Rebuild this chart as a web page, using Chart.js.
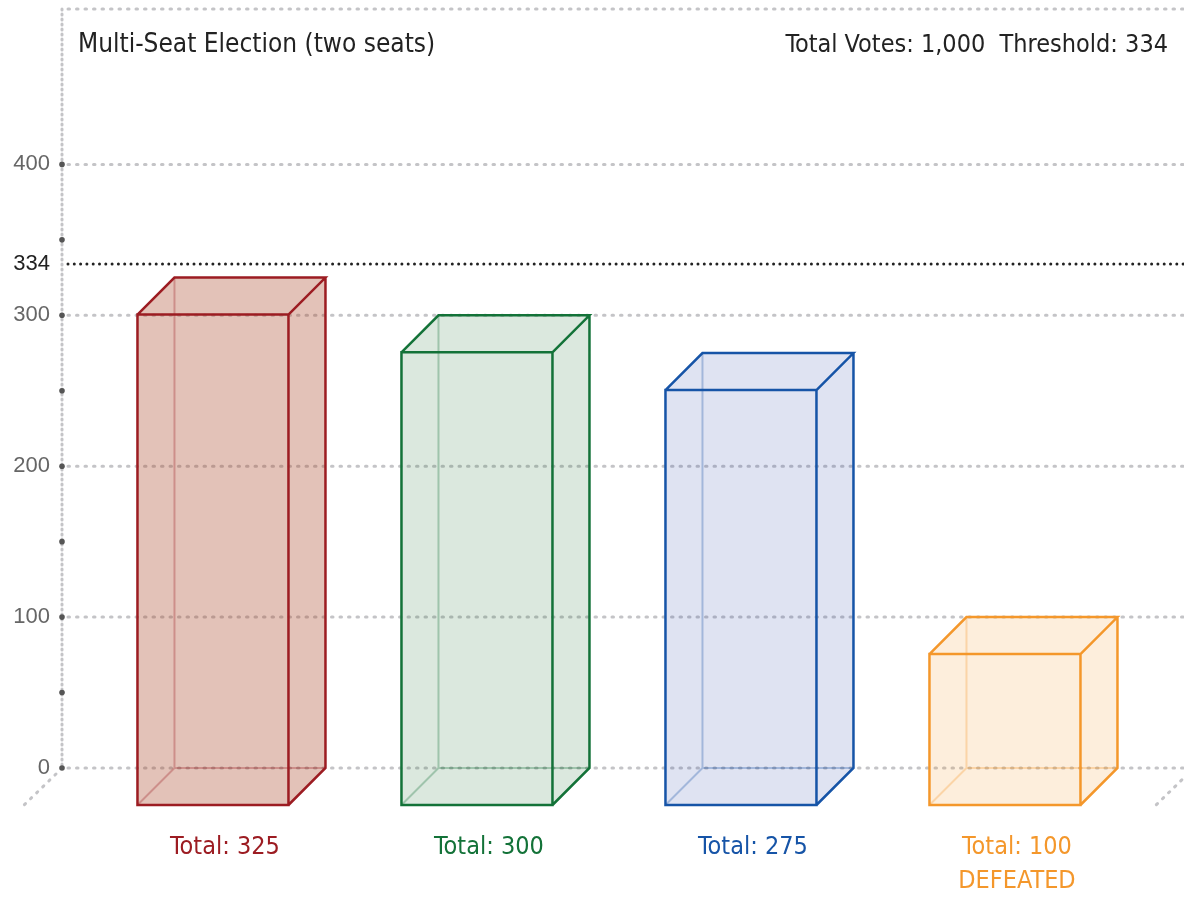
<!DOCTYPE html>
<html>
<head>
<meta charset="utf-8">
<script src="https://cdn.jsdelivr.net/npm/chart.js@4/dist/chart.umd.min.js"></script>
<style>
  html, body { margin: 0; padding: 0; background: #fff; }
  #wrap { width: 1184px; height: 898px; }
</style>
</head>
<body>
<div id="wrap"><canvas id="myChart"></canvas></div>
<script>
'use strict';

// data
const candidates = ['Candidate 1', 'Candidate 2', 'Candidate 3', 'Candidate 4'];
const totals = [325, 300, 275, 100];
const tickLabels = [['Total: 325'], ['Total: 300'], ['Total: 275'], ['Total: 100', 'DEFEATED']];
const yTickValues = [0, 100, 200, 300, 334, 400];
const yDotValues = [0, 50, 100, 150, 200, 250, 300, 350, 400];
const threshold = 334;
const titleText = 'Multi-Seat Election (two seats)';
const infoText = 'Total Votes: 1,000  Threshold: 334';

// styles
const strokeColors = ['#9c1c22', '#137238', '#1654a7', '#f4972b'];
const fillColors = ['rgba(168,64,34,0.32)', 'rgba(30,110,50,0.16)', 'rgba(40,70,170,0.15)', 'rgba(244,150,40,0.16)'];
const edgeColors = ['rgba(156,28,34,0.3)', 'rgba(19,114,56,0.3)', 'rgba(22,84,167,0.3)', 'rgba(244,151,43,0.3)'];
const narrow = '"Liberation Sans Narrow", "DejaVu Sans Condensed", "Roboto Condensed", sans-serif';
const gridGray = '#c4c4c7';
const DEPTH = 37;

const ctx = document.getElementById('myChart').getContext('2d');

function dotted(c, pts, color, dash) {
  c.save();
  c.strokeStyle = color;
  c.lineWidth = 3;
  c.lineCap = 'round';
  c.setLineDash(dash);
  c.beginPath();
  c.moveTo(pts[0], pts[1]);
  c.lineTo(pts[2], pts[3]);
  c.stroke();
  c.restore();
}

// grid, axis dots and diagonals
const backdrop = {
  id: 'backdrop',
  beforeDatasetsDraw(chart) {
    const c = chart.ctx;
    const a = chart.chartArea;
    const y = chart.scales.y;
    const right = chart.width;
    // top border
    dotted(c, [a.left + 6, a.top, right, a.top], gridGray, [1.5, 7]);
    // grid
    yTickValues.forEach(v => {
      const py = y.getPixelForValue(v);
      if (v === threshold) {
        dotted(c, [a.left + 6, py, right, py], '#222', [0, 6.3]);
      } else {
        dotted(c, [a.left + 6, py, right, py], gridGray, [1.5, 7]);
      }
    });
    // axis
    dotted(c, [a.left, a.top, a.left, a.bottom], gridGray, [1, 4]);
    // floor diagonals
    dotted(c, [a.left - 6, a.bottom + 6, a.left - 40, a.bottom + 39], gridGray, [1.5, 7]);
    dotted(c, [right + 10, a.bottom, right + 10 - 40, a.bottom + 39], gridGray, [1.5, 7]);
    // axis dots
    c.save();
    c.fillStyle = '#555';
    yDotValues.forEach(v => {
      c.beginPath();
      c.arc(a.left, y.getPixelForValue(v), 2.8, 0, Math.PI * 2);
      c.fill();
    });
    c.restore();
  }
};

// 3d boxes, drawn from the bar elements
const boxes = {
  id: 'boxes',
  afterDatasetsDraw(chart) {
    const c = chart.ctx;
    const meta = chart.getDatasetMeta(0);
    meta.data.forEach((bar, i) => {
      const p = bar.getProps(['x', 'y', 'base', 'width'], true);
      const L = p.x - p.width / 2, R = p.x + p.width / 2, T = p.y, B = p.base;
      const d = DEPTH;
      c.save();
      // fill
      c.fillStyle = fillColors[i];
      c.beginPath();
      c.moveTo(L - d, B + d);
      c.lineTo(L - d, T + d);
      c.lineTo(L, T);
      c.lineTo(R, T);
      c.lineTo(R, B);
      c.lineTo(R - d, B + d);
      c.closePath();
      c.fill();
      // hidden edges
      c.strokeStyle = edgeColors[i];
      c.lineWidth = 2;
      c.beginPath();
      c.moveTo(L, T);
      c.lineTo(L, B);
      c.lineTo(R, B);
      c.moveTo(L, B);
      c.lineTo(L - d, B + d);
      c.stroke();
      // visible edges
      c.strokeStyle = strokeColors[i];
      c.lineWidth = 2.5;
      c.beginPath();
      c.rect(L - d, T + d, p.width, B - T);
      c.moveTo(L - d, T + d);
      c.lineTo(L, T);
      c.lineTo(R, T);
      c.lineTo(R - d, T + d);
      c.moveTo(R, T);
      c.lineTo(R, B);
      c.lineTo(R - d, B + d);
      c.stroke();
      c.restore();
    });
  }
};

// header texts
const header = {
  id: 'header',
  afterDraw(chart) {
    const c = chart.ctx;
    const a = chart.chartArea;
    c.save();
    c.fillStyle = '#222';
    c.textBaseline = 'alphabetic';
    c.font = '26px ' + narrow;
    c.textAlign = 'left';
    c.fillText(titleText, a.left + 16, 52);
    c.font = '25px ' + narrow;
    c.textAlign = 'right';
    c.fillText(infoText, chart.width - 16, 52);
    c.restore();
  }
};

const data = {
  datasets: [
    {
      label: 'Votes',
      data: totals.map((v, i) => ({ x: i, y: v })),
      backgroundColor: 'rgba(0,0,0,0)',
      borderWidth: 0,
      barThickness: 151
    }
  ]
};

const options = {
  responsive: true,
  maintainAspectRatio: false,
  animation: false,
  layout: {
    padding: { top: 9, right: 0, left: 0, bottom: 0 }
  },
  plugins: {
    legend: { display: false },
    tooltip: { enabled: false }
  },
  scales: {
    x: {
      type: 'linear',
      offset: false,
      min: -0.712,
      max: 3.538,
      grid: { display: false, drawTicks: false },
      border: { display: false },
      afterBuildTicks: scale => {
        scale.ticks = candidates.map((c, i) => ({ value: i }));
      },
      afterFit: scale => {
        scale.height = 130;
        scale.paddingLeft = 0;
        scale.paddingRight = 0;
      },
      ticks: {
        autoSkip: false,
        maxRotation: 0,
        padding: 62,
        labelOffset: -25,
        font: { family: narrow, size: 25, lineHeight: 1.36 },
        color: c => strokeColors[c.index],
        callback: (value, index) => tickLabels[index]
      }
    },
    y: {
      min: 0,
      max: 503,
      grid: { display: false, drawTicks: false },
      border: { display: false },
      afterBuildTicks: scale => {
        scale.ticks = yTickValues.map(v => ({ value: v }));
      },
      afterFit: scale => {
        scale.width = 62;
        scale.paddingTop = 0;
        scale.paddingBottom = 0;
      },
      ticks: {
        padding: 12,
        font: { family: '"Liberation Sans", Arial, sans-serif', size: 22 },
        color: c => (c.tick.value === threshold ? '#222' : '#666')
      }
    }
  }
};

new Chart(ctx, {
  type: 'bar',
  data: data,
  options: options,
  plugins: [backdrop, boxes, header]
});
</script>
</body>
</html>
